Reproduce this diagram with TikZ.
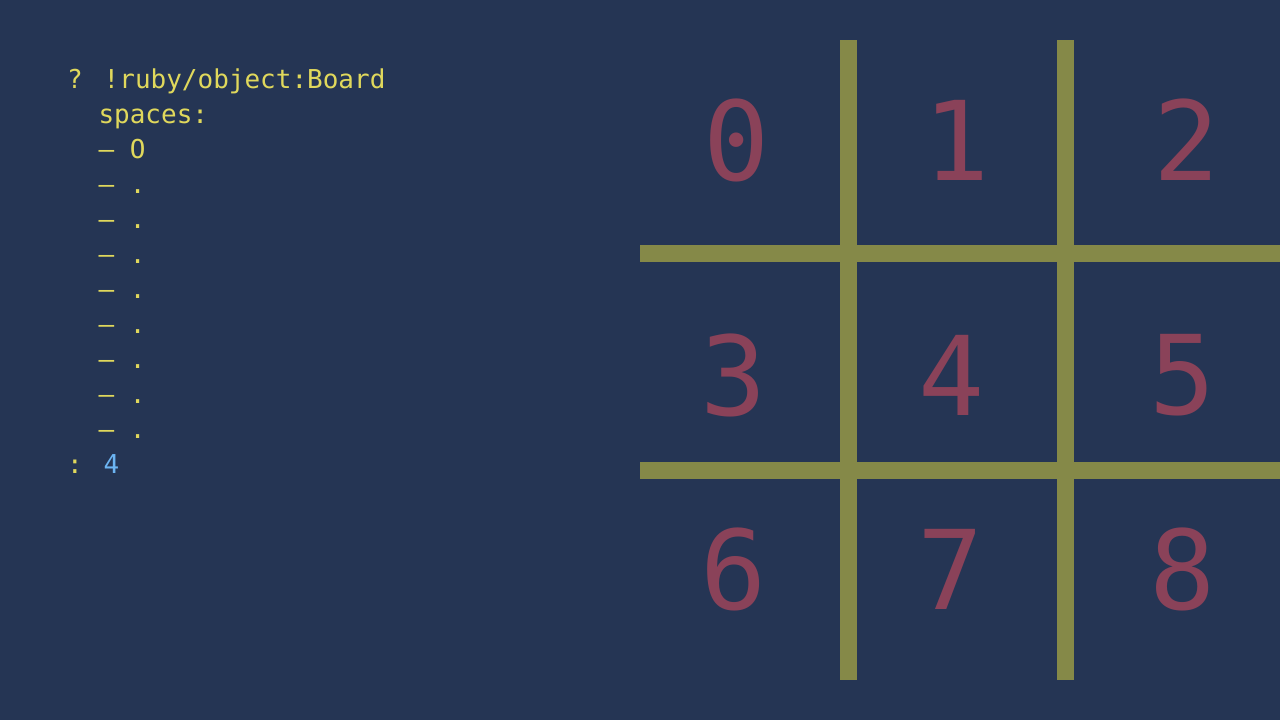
\documentclass[tikz,border=0pt]{standalone}
\usepackage{fontspec}
\setmonofont{DejaVu Sans Mono}
\newfontfamily\codefont{DejaVu Sans Mono}
\definecolor{bgc}{HTML}{253554}
\definecolor{yel}{HTML}{E0D85C}
\definecolor{blu}{HTML}{6CB4F2}
\definecolor{olv}{HTML}{858948}
\definecolor{mrn}{HTML}{8A4259}
\tikzset{
  codeline/.style={anchor=base west, inner sep=0pt, text=yel, font=\codefont\fontsize{26}{30}\selectfont},
  cellnum/.style={anchor=center, inner sep=0pt, text=mrn, font=\codefont\fontsize{110}{120}\selectfont},
  gridline/.style={draw=olv, line width=17pt}
}
\begin{document}
\begin{tikzpicture}[x=1pt,y=-1pt]
\fill[bgc] (0,0) rectangle (1280,720);
\useasboundingbox (0,0) rectangle (1280,720);
% code text
\node[codeline] (l1) at (67,88) {? !ruby/object:Board};
\node[codeline] (l2) at (67,123) {\ \ spaces:};
\node[codeline] (l3) at (67,158) {\ \ – O};
\foreach \i in {0,...,7}{
  \node[codeline] (d\i) at (67,193+35*\i) {\ \ – .};
}
\node[codeline] (l12) at (67,473) {: \textcolor{blu}{4}};
% grid
\draw[gridline] (848,40) -- (848,680);
\draw[gridline] (1065.5,40) -- (1065.5,680);
\draw[gridline] (640,253.5) -- (1280,253.5);
\draw[gridline] (640,470.5) -- (1280,470.5);
% numbers
\node[cellnum] (c0) at (737,140) {0};
\node[cellnum] (c1) at (957,140) {1};
\node[cellnum] (c2) at (1187,140) {2};
\node[cellnum] (c3) at (734,375) {3};
\node[cellnum] (c4) at (952,375) {4};
\node[cellnum] (c5) at (1183,375) {5};
\node[cellnum] (c6) at (734,569) {6};
\node[cellnum] (c7) at (951,569) {7};
\node[cellnum] (c8) at (1183,569) {8};
\end{tikzpicture}
\end{document}
